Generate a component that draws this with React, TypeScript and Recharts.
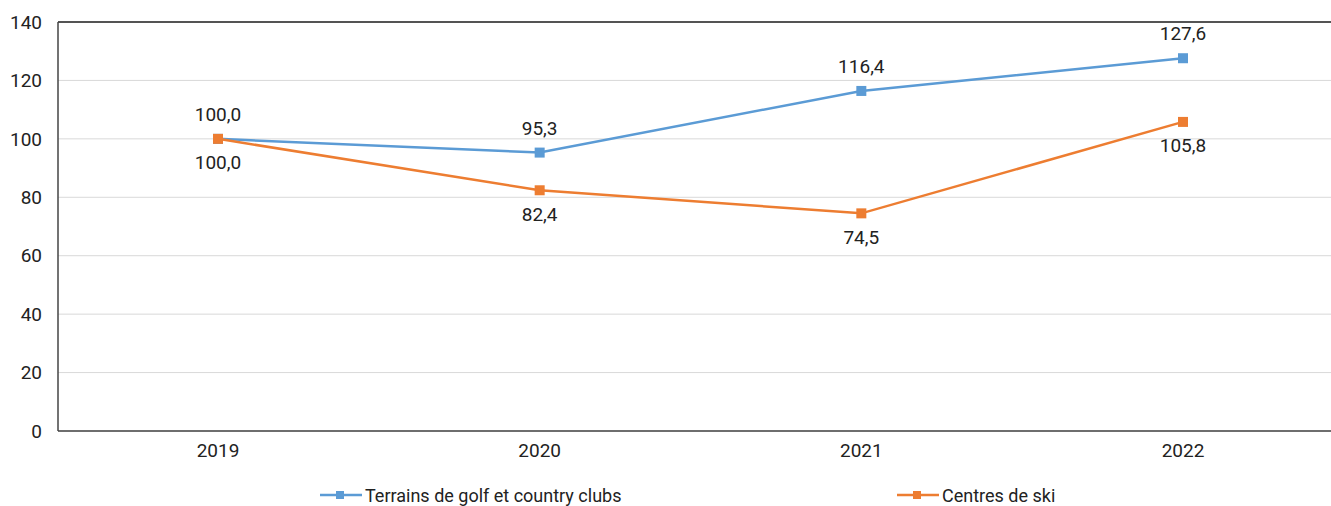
import React from 'react';
import { LineChart, Line, XAxis, YAxis, CartesianGrid, Legend, LabelList, ReferenceLine } from 'recharts';

const years = ['2019', '2020', '2021', '2022'];
const golf = [100.0, 95.3, 116.4, 127.6];
const ski = [100.0, 82.4, 74.5, 105.8];
const yTicks = [0, 20, 40, 60, 80, 100, 120, 140];

const data = years.map((y, i) => ({ year: y, golf: golf[i], ski: ski[i] }));

const FONT = '"Roboto", sans-serif';
const BLUE = '#5B9BD5';
const ORANGE = '#ED7D31';

const fmt = (v: any) => Number(v).toFixed(1).replace('.', ',');

const Square = (color: string) => (props: any) => {
  const { cx, cy, index } = props;
  if (cx == null || cy == null) return <g key={index} />;
  return <rect key={index} x={cx - 5} y={cy - 5} width={10} height={10} fill={color} />;
};

const LegendContent = () => {
  const items = [
    { name: 'Terrains de golf et country clubs', color: BLUE, left: 320 },
    { name: 'Centres de ski', color: ORANGE, left: 897 },
  ];
  return (
    <div style={{ position: 'relative', width: 1331, height: 24, fontFamily: FONT, fontSize: 18, color: '#222' }}>
      {items.map((it) => (
        <div key={it.name} style={{ position: 'absolute', left: it.left, top: 0, display: 'flex', alignItems: 'center', height: 24 }}>
          <svg width={42} height={12} style={{ marginRight: 3 }}>
            <line x1={0} y1={6} x2={42} y2={6} stroke={it.color} strokeWidth={2.5} />
            <rect x={16} y={2} width={8} height={8} fill={it.color} />
          </svg>
          <span style={{ whiteSpace: 'nowrap' }}>{it.name}</span>
        </div>
      ))}
    </div>
  );
};

export default function App() {
  return (
    <div style={{ position: 'absolute', left: 0, top: 0, background: '#fff' }}>
      <LineChart width={1331} height={506} data={data} margin={{ top: 22, right: 0, bottom: 21, left: 0 }}>
        <CartesianGrid vertical={false} stroke="#d9d9d9" strokeWidth={1} />
        <XAxis
          dataKey="year"
          padding={{ left: 160, right: 148 }}
          tickLine={false}
          axisLine={{ stroke: '#444', strokeWidth: 1.5 }}
          tick={{ fill: '#222', fontSize: 19, fontFamily: FONT }}
          tickMargin={7}
          height={30}
        />
        <YAxis
          domain={[0, 140]}
          ticks={yTicks}
          width={58}
          tickLine={false}
          axisLine={{ stroke: '#444', strokeWidth: 1.5 }}
          tick={{ fill: '#222', fontSize: 19, fontFamily: FONT }}
          tickMargin={10}
          interval={0}
        />
        <ReferenceLine y={140} stroke="#222" strokeWidth={1.5} />
        <Legend content={<LegendContent />} wrapperStyle={{ left: 0, top: 483, width: 1331 }} />
        <Line
          dataKey="golf"
          name="Terrains de golf et country clubs"
          stroke={BLUE}
          strokeWidth={2.5}
          dot={Square(BLUE)}
          activeDot={false}
          isAnimationActive={false}
        >
          <LabelList dataKey="golf" position="top" offset={18} formatter={fmt} style={{ fill: '#222', fontSize: 19, fontFamily: FONT }} />
        </Line>
        <Line
          dataKey="ski"
          name="Centres de ski"
          stroke={ORANGE}
          strokeWidth={2.5}
          dot={Square(ORANGE)}
          activeDot={false}
          isAnimationActive={false}
        >
          <LabelList dataKey="ski" position="bottom" offset={17} formatter={fmt} style={{ fill: '#222', fontSize: 19, fontFamily: FONT }} />
        </Line>
      </LineChart>
    </div>
  );
}
